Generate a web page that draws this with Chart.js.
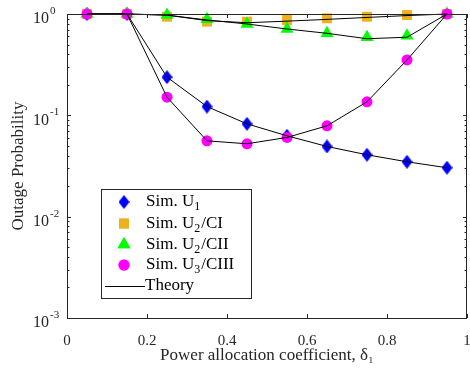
<!DOCTYPE html>
<html>
<head>
<meta charset="UTF-8">
<title>Outage Probability vs Power Allocation Coefficient</title>
<script src="https://cdn.jsdelivr.net/npm/chart.js@4.4.1/dist/chart.umd.min.js"></script>
<style>
  body { margin: 0; background: #fff; }
  .chart-container { width: 470px; height: 372px; position: relative; }
</style>
</head>
<body>
<div class="chart-container"><canvas id="outageChart" width="470" height="372"></canvas></div>
<script>
// Data
const deltaValues = [0.05, 0.15, 0.25, 0.35, 0.45, 0.55, 0.65, 0.75, 0.85, 0.95];

const simU1     = [1, 1, 0.238, 0.122, 0.0824, 0.0628, 0.0493, 0.0408, 0.0348, 0.0304];
const simU2CI   = [1, 1, 0.94, 0.84, 0.84, 0.873, 0.907, 0.94, 0.977, 1];
const simU2CII  = [1, 1, 0.977, 0.887, 0.797, 0.711, 0.645, 0.589, 0.611, 1];
const simU3CIII = [1, 1, 0.151, 0.056, 0.0524, 0.0605, 0.0788, 0.136, 0.352, 1];

const theoryU1     = [1, 1, 0.238, 0.122, 0.0824, 0.0628, 0.0493, 0.0408, 0.0348, 0.0304];
const theoryU2CI   = [1, 1, 0.975, 0.86, 0.82, 0.85, 0.885, 0.925, 0.965, 1];
const theoryU2CII  = [1, 1, 0.975, 0.873, 0.797, 0.711, 0.645, 0.57, 0.59, 1];
const theoryU3CIII = [1, 1, 0.151, 0.056, 0.0524, 0.0605, 0.0788, 0.136, 0.352, 1];

const xTicks = [0, 0.2, 0.4, 0.6, 0.8, 1];
const yTicks = [0.001, 0.01, 0.1, 1];
const yTickExponents = ['-3', '-2', '-1', '0'];

// legend rows: [base text, subscript, rest]
const legendRows = [
    ['Sim. U', '1', ''],
    ['Sim. U', '2', '/CI'],
    ['Sim. U', '2', '/CII'],
    ['Sim. U', '3', '/CIII'],
    ['Theory', '', '']
];

const colors = {
    u1: '#0000ff',
    ci: '#edb120',
    cii: '#00ff00',
    ciii: '#ff00ff'
};

const serif = '"Liberation Serif", "Times New Roman", serif';

// tall diamond marker, like matlab's 'd'
function makeDiamond(color) {
    const c = document.createElement('canvas');
    c.width = 11; c.height = 14;
    const g = c.getContext('2d');
    g.fillStyle = color;
    g.beginPath();
    g.moveTo(5.5, 0); g.lineTo(11, 7); g.lineTo(5.5, 14); g.lineTo(0, 7);
    g.closePath();
    g.fill();
    return c;
}
const diamond = makeDiamond(colors.u1);

function toPoints(ys) {
    return ys.map((y, i) => ({ x: deltaValues[i], y: y }));
}

// higher order is drawn first, so magenta ends up on top like the original
function simSet(label, ys, color, style, radius, order) {
    return {
        label: label,
        data: toPoints(ys),
        showLine: false,
        pointStyle: style,
        pointRadius: radius,
        pointHoverRadius: radius,
        pointBackgroundColor: color,
        pointBorderColor: color,
        pointBorderWidth: 0,
        clip: false,
        order: order
    };
}

function theorySet(ys) {
    return {
        label: 'Theory',
        data: toPoints(ys),
        borderColor: '#000',
        borderWidth: 1,
        pointRadius: 0,
        tension: 0,
        clip: false,
        order: 1
    };
}

const markerDefs = [
    { style: diamond, color: colors.u1, r: 6 },
    { style: 'rect', color: colors.ci, r: 7 },
    { style: 'triangle', color: colors.cii, r: 7.5 },
    { style: 'circle', color: colors.ciii, r: 5.5 }
];

// box, inward ticks, y labels with exponents
const axesBox = {
    id: 'axesBox',
    afterDatasetsDraw(chart) {
        const ctx = chart.ctx;
        const a = chart.chartArea;
        const xs = chart.scales.x;
        const ys = chart.scales.y;
        ctx.save();
        ctx.strokeStyle = '#262626';
        ctx.lineWidth = 1;
        ctx.beginPath();
        xTicks.forEach(v => {
            const px = Math.round(xs.getPixelForValue(v)) + 0.5;
            ctx.moveTo(px, a.bottom); ctx.lineTo(px, a.bottom - 4);
            ctx.moveTo(px, a.top); ctx.lineTo(px, a.top + 4);
        });
        yTicks.forEach(v => {
            const py = Math.round(ys.getPixelForValue(v)) + 0.5;
            ctx.moveTo(a.left, py); ctx.lineTo(a.left + 4, py);
            ctx.moveTo(a.right, py); ctx.lineTo(a.right - 4, py);
        });
        for (let d = -3; d < 0; d++) {
            for (let m = 2; m <= 9; m++) {
                const py = Math.round(ys.getPixelForValue(m * Math.pow(10, d))) + 0.5;
                ctx.moveTo(a.left, py); ctx.lineTo(a.left + 2.5, py);
                ctx.moveTo(a.right, py); ctx.lineTo(a.right - 2.5, py);
            }
        }
        ctx.stroke();
        ctx.strokeRect(Math.round(a.left) + 0.5, Math.round(a.top) + 0.5,
            Math.round(a.right - a.left) - 1, Math.round(a.bottom - a.top));

        ctx.fillStyle = '#262626';
        ctx.textBaseline = 'middle';
        ctx.textAlign = 'left';
        yTicks.forEach((v, i) => {
            const py = ys.getPixelForValue(v);
            ctx.font = '16px ' + serif;
            ctx.fillText('10', 33, py + 5);
            ctx.font = '11px ' + serif;
            ctx.fillText(yTickExponents[i], 50, py - 3);
        });
        ctx.restore();
    }
};

// legend box inside the axes
const innerLegend = {
    id: 'innerLegend',
    afterDraw(chart) {
        const ctx = chart.ctx;
        const bx = 101.5, by = 189.5, bw = 150, bh = 109;
        ctx.save();
        ctx.fillStyle = '#fff';
        ctx.fillRect(bx, by, bw, bh);
        ctx.strokeStyle = '#262626';
        ctx.lineWidth = 1;
        ctx.strokeRect(bx, by, bw, bh);
        const rowY = [202, 223.5, 244.5, 265, 285.5];
        legendRows.forEach((row, i) => {
            const y = rowY[i];
            if (i < markerDefs.length) {
                const m = markerDefs[i];
                ctx.fillStyle = m.color;
                ctx.strokeStyle = m.color;
                Chart.helpers.drawPoint(ctx, { pointStyle: m.style, radius: m.r, borderWidth: 0, rotation: 0 }, 124, y);
                ctx.fill();
            } else {
                ctx.strokeStyle = '#000';
                ctx.beginPath();
                ctx.moveTo(105, Math.round(y) + 0.5);
                ctx.lineTo(145, Math.round(y) + 0.5);
                ctx.stroke();
            }
            ctx.fillStyle = '#000';
            ctx.textBaseline = 'middle';
            ctx.textAlign = 'left';
            let x = i < markerDefs.length ? 146 : 145;
            ctx.font = '17px ' + serif;
            ctx.fillText(row[0], x, y);
            x += ctx.measureText(row[0]).width;
            if (row[1]) {
                ctx.font = '12px ' + serif;
                ctx.fillText(row[1], x, y + 5);
                x += ctx.measureText(row[1]).width + 1;
            }
            if (row[2]) {
                ctx.font = '17px ' + serif;
                ctx.fillText(row[2], x, y);
            }
        });
        ctx.restore();
    }
};

const ctx = document.getElementById('outageChart').getContext('2d');
const chart = new Chart(ctx, {
    type: 'line',
    data: {
        datasets: [
            theorySet(theoryU1),
            theorySet(theoryU2CI),
            theorySet(theoryU2CII),
            theorySet(theoryU3CIII),
            simSet('Sim. U1', simU1, colors.u1, diamond, 7, 5),
            simSet('Sim. U2/CI', simU2CI, colors.ci, 'rect', 7, 4),
            simSet('Sim. U2/CII', simU2CII, colors.cii, 'triangle', 7.5, 3),
            simSet('Sim. U3/CIII', simU3CIII, colors.ciii, 'circle', 5.5, 2)
        ]
    },
    options: {
        responsive: false,
        animation: false,
        layout: { autoPadding: false, padding: { top: 14, right: 3, left: 0, bottom: 0 } },
        plugins: {
            legend: { display: false },
            tooltip: { enabled: false }
        },
        scales: {
            x: {
                type: 'linear',
                min: 0,
                max: 1,
                afterBuildTicks: s => { s.ticks = xTicks.map(v => ({ value: v })); },
                afterFit: s => { s.height = 54; s.paddingLeft = 0; s.paddingRight = 0; },
                grid: { display: false, drawTicks: false },
                border: { display: false },
                ticks: {
                    padding: 14,
                    color: '#262626',
                    font: { family: serif, size: 15 },
                    maxRotation: 0,
                    callback: v => String(+v.toFixed(1))
                },
                title: {
                    display: true,
                    text: 'Power allocation coefficient, δ\u2081',
                    color: '#262626',
                    font: { family: serif, size: 17 },
                    padding: { top: 0, bottom: 6 }
                }
            },
            y: {
                type: 'logarithmic',
                min: 0.001,
                max: 1,
                afterBuildTicks: s => { s.ticks = yTicks.map(v => ({ value: v })); },
                afterFit: s => { s.width = 67; },
                grid: { display: false },
                border: { display: false },
                ticks: { display: false },
                title: {
                    display: true,
                    text: 'Outage Probability',
                    color: '#262626',
                    font: { family: serif, size: 17 },
                    padding: { top: 8, bottom: 0 }
                }
            }
        }
    },
    plugins: [axesBox, innerLegend]
});
</script>
</body>
</html>
